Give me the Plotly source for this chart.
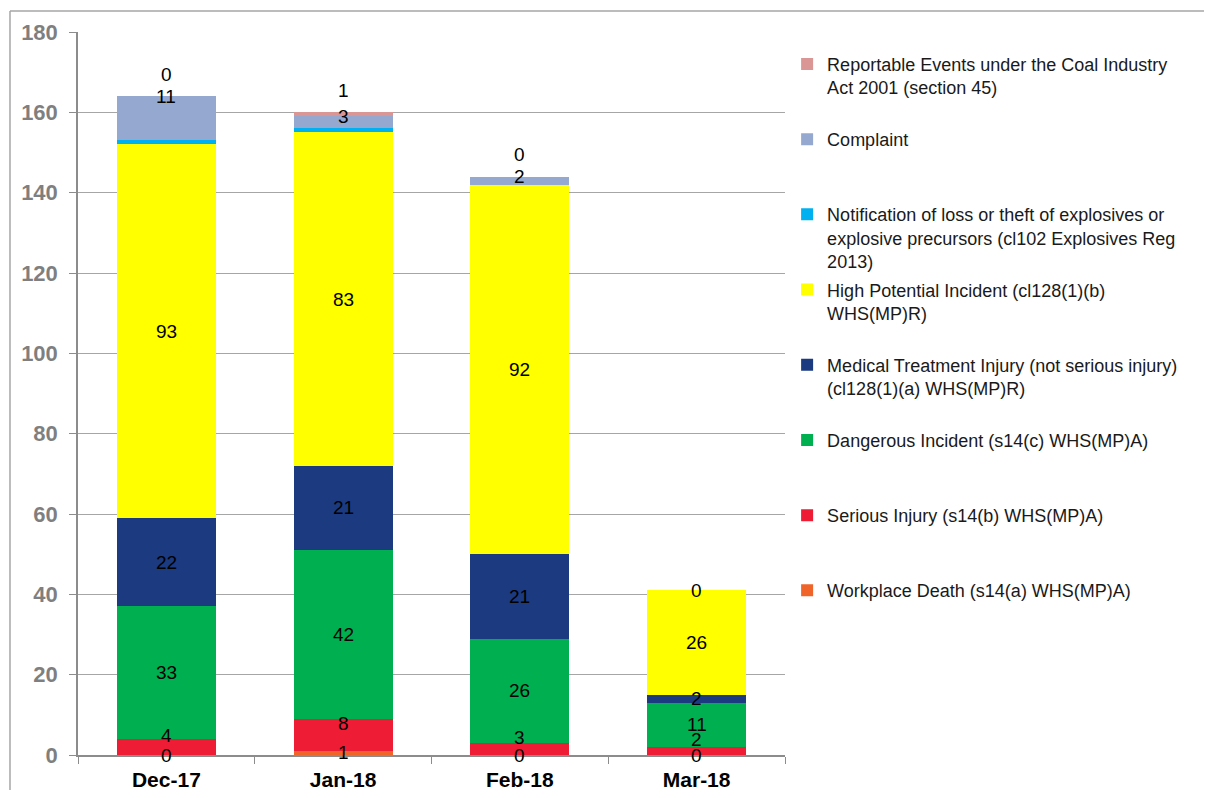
import plotly.graph_objects as go

months = ["Dec-17", "Jan-18", "Feb-18", "Mar-18"]
death = [0, 1, 0, 0]
serious = [4, 8, 3, 2]
dangerous = [33, 42, 26, 11]
mti = [22, 21, 21, 2]
hpi = [93, 83, 92, 26]
notification = [1, 1, 0, 0]
complaint = [11, 3, 2, 0]
reportable = [0, 1, 0, None]

names = [
    "Workplace Death (s14(a) WHS(MP)A)",
    "Serious Injury (s14(b) WHS(MP)A)",
    "Dangerous Incident (s14(c) WHS(MP)A)",
    "Medical Treatment Injury (not serious injury)<br>(cl128(1)(a) WHS(MP)R)",
    "High Potential Incident (cl128(1)(b)<br>WHS(MP)R)",
    "Notification of loss or theft of explosives or<br>explosive precursors (cl102 Explosives Reg<br>2013)",
    "Complaint",
    "Reportable Events under the Coal Industry<br>Act 2001 (section 45)",
]
colors = ["#F0642A", "#EE1C35", "#00B050", "#1B3A80", "#FFFF00", "#00B0F0", "#95A9D0", "#D99694"]
series = [death, serious, dangerous, mti, hpi, notification, complaint, reportable]
# label placement style per series: (mode, yshift px)
label_modes = [("center", 0), ("center", 11), ("center", 0), ("center", 0), ("center", 0),
               (None, 0), ("top", 0), ("top", 22)]

fig = go.Figure()
n = len(series)
for i, (nm, col, vals) in enumerate(zip(names, colors, series)):
    lines = nm.count("<br>") + 1
    padded = nm + "<br>\u00a0" * (3 - lines)
    fig.add_trace(go.Bar(
        x=months, y=vals, name=padded, marker=dict(color=col, line=dict(width=0)),
        legendgroup=f"g{i}", legendrank=n - i, hoverinfo="skip",
    ))

annotations = []
base = [0] * len(months)
for vals, (mode, ys) in zip(series, label_modes):
    for j, v in enumerate(vals):
        vv = 0 if v is None else v
        if mode is not None and v is not None:
            yy = base[j] + vv / 2 if mode == "center" else base[j] + vv
            annotations.append(dict(x=months[j], y=yy, text=str(v), showarrow=False,
                                    yshift=ys, font=dict(size=19, color="#000000",
                                                         family="Liberation Sans, Arial")))
        base[j] += vv

shapes = [
    dict(type="line", xref="paper", yref="paper", x0=-0.0962, x1=-0.0962, y0=-0.08, y1=1.029,
         line=dict(color="#A6A6A6", width=1.5)),
    dict(type="line", xref="paper", yref="paper", x0=-0.0962, x1=1.62, y0=1.029, y1=1.029,
         line=dict(color="#A6A6A6", width=1.5)),
]

fig.update_layout(
    width=1196, height=782,
    barmode="stack", bargap=0.44,
    paper_bgcolor="white", plot_bgcolor="white",
    margin=dict(l=70, r=419, t=24, b=35, autoexpand=False),
    font=dict(family="Liberation Sans, Arial", color="#000000"),
    annotations=annotations,
    shapes=shapes,
    legend=dict(
        x=1.003, xanchor="left", y=0.981, yanchor="top",
        font=dict(size=18, color="#1a1a1a"),
        traceorder="grouped", tracegroupgap=2, valign="top",
        bgcolor="rgba(0,0,0,0)",
    ),
    xaxis=dict(
        showline=True, linecolor="#8C8C8C", linewidth=1.5, automargin=False,
        ticks="outside", tickson="boundaries", ticklen=7, tickcolor="#8C8C8C",
        ticklabelstandoff=5,
        tickfont=dict(size=21, color="#000000", family="Liberation Sans, Arial", weight="bold"),
        showgrid=False,
    ),
    yaxis=dict(
        range=[0, 180], dtick=20, showline=True, linecolor="#8C8C8C", linewidth=1.5,
        automargin=False,
        ticks="outside", ticklen=7, tickcolor="#8C8C8C", ticklabelstandoff=7,
        showgrid=True, gridcolor="#A6A6A6", gridwidth=1.2,
        tickfont=dict(size=22, color="#7F7F7F", family="Liberation Sans, Arial", weight="bold"),
        zeroline=False,
    ),
)

fig.write_html("out.html")
